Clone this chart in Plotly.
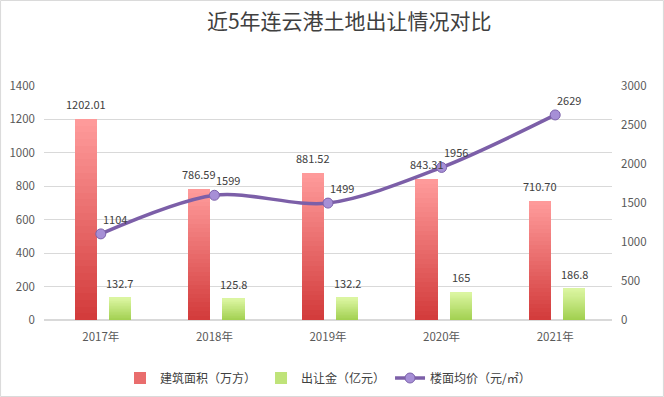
import plotly.graph_objects as go

years = ["2017年", "2018年", "2019年", "2020年", "2021年"]
area = [1202.01, 786.59, 881.52, 843.31, 710.70]        # 建筑面积（万方）
fee = [132.7, 125.8, 132.2, 165, 186.8]                 # 出让金（亿元）
price = [1104, 1599, 1499, 1956, 2629]                  # 楼面均价（元/㎡）
area_labels = ["1202.01", "786.59", "881.52", "843.31", "710.70"]
fee_labels = ["132.7", "125.8", "132.2", "165", "186.8"]
price_labels = ["1104", "1599", "1499", "1956", "2629"]

FONT = "Noto Sans CJK SC, Noto Sans, sans-serif"
N = 30
BAR_W = 0.195
RED_OFF = -0.23
GREEN_OFF = 0.07


def lerp(c1, c2, t):
    return "rgb(%d,%d,%d)" % tuple(round(a + (b - a) * t) for a, b in zip(c1, c2))


def gradient_bars(fig, values, name, bottom, top, offset, width, rank):
    for i in range(N):
        t = (i + 0.5) / N
        show = i == N // 2
        fig.add_trace(go.Bar(
            x=years,
            y=[v / N for v in values],
            base=[v * i / N for v in values],
            offset=offset, width=width,
            marker=dict(color=lerp(bottom, top, t), line=dict(width=0)),
            name=name, legendgroup=name, showlegend=show, legendrank=rank,
            customdata=values,
            hovertemplate="%{x}: %{customdata}<extra>" + name + "</extra>",
        ))


fig = go.Figure()
gradient_bars(fig, area, "建筑面积（万方）", (210, 58, 58), (255, 156, 156), RED_OFF, BAR_W, 1)
gradient_bars(fig, fee, "出让金（亿元）", (160, 207, 78), (220, 246, 162), GREEN_OFF, BAR_W, 2)

fig.add_trace(go.Scatter(
    x=years, y=price, yaxis="y2", name="楼面均价（元/㎡）", legendrank=3,
    mode="lines+markers",
    line=dict(color="#7c5fa8", width=3.5, shape="spline", smoothing=0.9),
    marker=dict(size=10, color="#a68fd6", line=dict(color="#7c62aa", width=1)),
    cliponaxis=False,
))

lab_font = dict(family=FONT, size=11, color="#404040")
annotations = []
for i, (v, lab) in enumerate(zip(area, area_labels)):
    annotations.append(dict(x=i + RED_OFF + BAR_W / 2, y=v, xref="x", yref="y", text=lab,
                            showarrow=False, yshift=15, font=lab_font))
for i, (v, lab) in enumerate(zip(fee, fee_labels)):
    annotations.append(dict(x=i + GREEN_OFF + BAR_W / 2, y=v, xref="x", yref="y", text=lab,
                            showarrow=False, yshift=15, font=lab_font))
for i, (v, lab) in enumerate(zip(price, price_labels)):
    annotations.append(dict(x=i, y=v, xref="x", yref="y2", text=lab, showarrow=False,
                            xshift=14, yshift=15, font=lab_font))

fig.update_layout(
    width=664, height=397,
    margin=dict(l=44, r=52, t=86, b=77, autoexpand=False),
    paper_bgcolor="white", plot_bgcolor="white",
    barmode="overlay", bargap=0,
    font=dict(family=FONT, size=11, color="#595959"),
    title=dict(text="近5年连云港土地出让情况对比", x=0.526, xanchor="center",
               y=0.945, yanchor="middle",
               font=dict(family=FONT, size=21, color="#404040")),
    xaxis=dict(type="category", showgrid=False, showline=False, ticks="",
               automargin=False, ticklabelstandoff=8,
               tickfont=dict(size=11.5, color="#595959")),
    yaxis=dict(range=[0, 1400], dtick=200, gridcolor="#d9d9d9", gridwidth=1,
               zeroline=True, zerolinecolor="#d9d9d9", showline=False,
               automargin=False, ticklabelstandoff=8,
               tickfont=dict(size=11.5, color="#595959")),
    yaxis2=dict(range=[0, 3000], dtick=500, overlaying="y", side="right",
                showgrid=False, zeroline=False, showline=False,
                automargin=False, ticklabelstandoff=8,
                tickfont=dict(size=11.5, color="#595959")),
    legend=dict(orientation="h", x=0.5, xanchor="center",
                yref="container", y=1 - 378 / 397, yanchor="middle",
                font=dict(size=12, color="#404040"), itemwidth=30,
                traceorder="normal"),
    showlegend=True,
    annotations=annotations,
    shapes=[dict(type="rect", xref="paper", yref="paper",
                 x0=-44 / 568 + 0.001, x1=(664 - 44) / 568 - 0.001,
                 y0=-77 / 234 + 0.002, y1=(397 - 77) / 234 - 0.002,
                 line=dict(color="#d9d9d9", width=1), fillcolor="rgba(0,0,0,0)",
                 layer="below")],
)

fig.write_html("out.html", config={"displayModeBar": False},
               post_script="document.body.style.margin='0';document.body.style.overflow='hidden';")
